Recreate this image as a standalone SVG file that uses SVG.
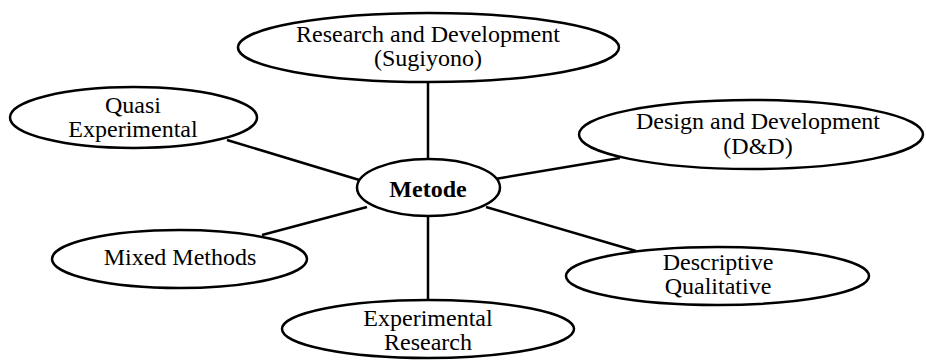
<svg xmlns="http://www.w3.org/2000/svg" width="926" height="360" viewBox="0 0 926 360">
<style>
.n{fill:#fff;stroke:#000;stroke-width:2.5}
.c line{stroke:#000;stroke-width:2.5}
text{font-family:"Liberation Serif","Times New Roman",serif;font-size:24px;fill:#000;text-anchor:middle}
.b{font-weight:bold}
</style>
<rect width="926" height="360" fill="#fff"/>
<g id="connectors" class="c">
<line x1="428" y1="82" x2="428" y2="159"/>
<line x1="227" y1="140" x2="366" y2="182"/>
<line x1="620" y1="158" x2="495" y2="179"/>
<line x1="262" y1="235" x2="367" y2="207"/>
<line x1="486" y1="207" x2="636" y2="251"/>
<line x1="428" y1="216" x2="428" y2="300"/>
</g>
<g id="node-rd">
<ellipse class="n" cx="428.5" cy="47.5" rx="190.5" ry="34.5"/>
<text x="428" y="42">Research and Development</text>
<text x="428" y="66">(Sugiyono)</text>
</g>
<g id="node-quasi">
<ellipse class="n" cx="133.5" cy="117.5" rx="123.5" ry="30.5"/>
<text x="133" y="113">Quasi</text>
<text x="133" y="137">Experimental</text>
</g>
<g id="node-dd">
<ellipse class="n" cx="751" cy="134.5" rx="172" ry="34.5"/>
<text x="758" y="129">Design and Development</text>
<text x="758" y="154">(D&amp;D)</text>
</g>
<g id="node-metode">
<ellipse class="n" cx="428.5" cy="187.5" rx="71.5" ry="28.5"/>
<text class="b" x="428" y="197">Metode</text>
</g>
<g id="node-mixed">
<ellipse class="n" cx="179.5" cy="259" rx="127.5" ry="29"/>
<text x="180" y="265">Mixed Methods</text>
</g>
<g id="node-desc">
<ellipse class="n" cx="717.5" cy="276" rx="151.5" ry="29"/>
<text x="718" y="270">Descriptive</text>
<text x="718" y="294">Qualitative</text>
</g>
<g id="node-exp">
<ellipse class="n" cx="428" cy="329" rx="146" ry="29"/>
<text x="428" y="326">Experimental</text>
<text x="428" y="350">Research</text>
</g>
</svg>
